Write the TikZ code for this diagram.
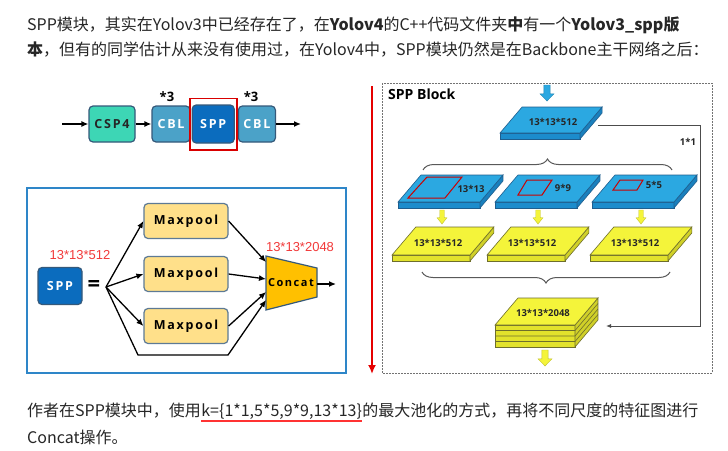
\documentclass[tikz,border=0pt]{standalone}
\usepackage{fontspec}
\setmainfont{Noto Sans CJK SC}
\newfontfamily\diag{Open Sans}
\newfontfamily\diagsp[LetterSpace=14]{Open Sans}
\newfontfamily\arial{Liberation Sans}
\usetikzlibrary{positioning,arrows.meta,fit,decorations.pathreplacing}
\definecolor{blkline}{HTML}{35597A}
\definecolor{cspfill}{HTML}{3DD6B5}
\definecolor{cblfill}{HTML}{4BA2C8}
\definecolor{sppfill}{HTML}{0B6CBE}
\definecolor{poolfill}{HTML}{FFE08A}
\definecolor{catfill}{HTML}{FFC000}
\definecolor{framebl}{HTML}{2E86C8}
\definecolor{dimred}{HTML}{F23A3A}
\definecolor{bluetop}{HTML}{2BA8E1}
\definecolor{bluefront}{HTML}{1C8CCC}
\definecolor{blueside}{HTML}{1A80BD}
\definecolor{blueline}{HTML}{1F5E8E}
\definecolor{yeltop}{HTML}{F4F43A}
\definecolor{yelfront}{HTML}{E2E22C}
\definecolor{yelside}{HTML}{D0D028}
\definecolor{yelline}{HTML}{6E6E2C}
% slab: x, y (front top left), width, depth, thickness, colour set
\newcommand{\slabblk}[6]{%
\filldraw[fill=#6front, draw=#6line, line width=0.6pt] (#1,#2) rectangle ({#1+#3},{#2+#5});
\filldraw[fill=#6side, draw=#6line, line width=0.6pt] ({#1+#3},#2) -- ++({0.85*#4},-#4) -- ++(0,#5) -- ({#1+#3},{#2+#5}) -- cycle;
\filldraw[fill=#6top, draw=#6line, line width=0.6pt] (#1,#2) -- ++(#3,0) -- ++({0.85*#4},-#4) -- ++(-#3,0) -- cycle;}
% fat arrow pointing down: x, y top, length, half width, colour
\newcommand{\fatarrow}[5]{%
\filldraw[fill=#5, draw=#5!80!black, line width=0.4pt] ({#1-0.45*#4},#2) -- ({#1+0.45*#4},#2) -- ({#1+0.45*#4},{#2+0.55*#3}) -- ({#1+#4},{#2+0.55*#3}) -- (#1,{#2+#3}) -- ({#1-#4},{#2+0.55*#3}) -- ({#1-0.45*#4},{#2+0.55*#3}) -- cycle;}
\begin{document}
\begin{tikzpicture}[x=1pt,y=-1pt,
  txt/.style={anchor=base west, inner sep=0pt, text=black!85, font=\fontsize{16}{16}\selectfont},
  blk/.style={draw=blkline, line width=1.2pt, rounded corners=4pt, minimum height=36pt, inner sep=0pt, font=\diagsp\bfseries\fontsize{12.5}{12.5}\selectfont},
  pool/.style={draw=blkline!80, fill=poolfill, line width=1.2pt, rounded corners=4pt, minimum width=84pt, minimum height=35pt, font=\diagsp\bfseries\fontsize{12.5}{12.5}\selectfont},
  arr/.style={-{Latex[length=7pt,width=6pt]}, line width=1.3pt},
  dims/.style={text=dimred, font=\arial\fontsize{13}{13}\selectfont},
  slabtxt/.style={font=\diag\bfseries\fontsize{9.5}{9.5}\selectfont, inner sep=0pt, text=black!85},
  brc/.style={decorate, draw=black!65, line width=1pt}]
\useasboundingbox[fill=white] (0,0) rectangle (728,450);
% text above
\node[txt] (l1) at (27,30) {SPP模块，其实在Yolov3中已经存在了，在\textbf{Yolov4}的C++代码文件夹\textbf{中}有一个\textbf{Yolov3\_spp版}};
\node[txt] (l2) at (27,55) {\textbf{本}，但有的同学估计从来没有使用过，在Yolov4中，SPP模块仍然是在Backbone主干网络之后：};
% backbone row
\node[blk, fill=cspfill, minimum width=46pt, text=black!85] (csp) at (112,124) {CSP4};
\node[blk, fill=cblfill, minimum width=38pt, text=white] (cbla) at (171,124) {CBL};
\node[blk, fill=sppfill, minimum width=42pt, minimum height=38pt, text=white, right=1pt of cbla] (sppa) {SPP};
\node[blk, fill=cblfill, minimum width=37pt, text=white, right=3pt of sppa] (cblb) {CBL};
\node[draw=red!85!black, line width=1.8pt, fit=(sppa), inner xsep=2pt, inner ysep=6pt] (hl) {};
\node[font=\diag\bfseries\fontsize{13}{13}\selectfont] (ta) at (167,97) {*3};
\node[font=\diag\bfseries\fontsize{13}{13}\selectfont] (tb) at (251,97) {*3};
\coordinate (in) at (62,124);
\coordinate (out) at (301,124);
\draw[arr] (in) -- (csp);
\draw[arr] (csp) -- (cbla);
\draw[arr] (cblb) -- (out);
% SPP detail
\draw[framebl, line width=2pt] (27,188) rectangle (346,373);
\node[blk, fill=sppfill, minimum width=44pt, minimum height=37pt, text=white] (sppb) at (60,286) {SPP};
\node[dims] (dima) at (80,255) {13*13*512};
\node[font=\diag\bfseries\fontsize{22}{22}\selectfont] (eq) at (94,286) {=};
\coordinate (br) at (106,287);
\node[pool] (mpa) at (186,221) {Maxpool};
\node[pool] (mpb) at (186,274) {Maxpool};
\node[pool] (mpc) at (186,326) {Maxpool};
\filldraw[fill=catfill, draw=blkline, line width=1.2pt] (266,256) -- (317,268) -- (317,297) -- (266,310) -- cycle;
\node[font=\diagsp\bfseries\fontsize{11}{11}\selectfont] (cat) at (291,283) {Concat};
\node[dims] (dimb) at (300,247) {13*13*2048};
\coordinate (cata) at (266,262);
\coordinate (catb) at (266,279);
\coordinate (catc) at (266,292);
\coordinate (catd) at (266,300);
\coordinate (catout) at (317,284);
\coordinate (catend) at (336,284);
\draw[arr] (br) -- (mpa.west);
\draw[arr] (br) -- (mpb.west);
\draw[arr] (br) -- (mpc.west);
\draw[arr] (br) -- ++(32,68) -- ++(90,0) -- (catd);
\draw[arr] (mpa.east) -- (cata);
\draw[arr] (mpb.east) -- (catb);
\draw[arr] (mpc.east) -- (catc);
\draw[arr] (catout) -- (catend);
% red arrow
\coordinate (rtop) at (372,86);
\coordinate (rbot) at (372,374);
\draw[red!90!black, line width=2pt, -{Latex[length=9pt,width=8pt]}] (rtop) -- (rbot);
% SPP block
\draw[black!55, line width=0.8pt, dash pattern=on 2pt off 1pt] (382,83) rectangle (712,373);
\node[anchor=west, inner sep=0pt, font=\diag\bfseries\fontsize{14}{14}\selectfont] (title) at (388,94) {SPP Block};
\fatarrow{547}{85}{16}{7}{bluetop}
\slabblk{500}{133}{80}{26}{6}{blue}
\node[slabtxt] (s0) at (553,122) {13*13*512};
\coordinate (topr) at (598,125);
\coordinate (stackr) at (606,326);
\draw[black!70, line width=0.9pt, -{Latex[length=5pt,width=4pt]}] (topr) -- ++(102,0) |- (stackr);
\node[slabtxt] (one) at (688,142) {1*1};
\draw[brc, decoration={brace, amplitude=11pt}] (423,170) -- (672,170);
% pooled maps
\slabblk{398}{202}{82}{27}{6}{blue}
\slabblk{495}{202}{82}{27}{6}{blue}
\slabblk{592}{202}{82}{27}{6}{blue}
\draw[red!80!black, line width=1pt] (408,198) -- (427,177) -- (462,177) -- (445,198) -- cycle;
\draw[red!80!black, line width=1pt] (518,195) -- (527,180) -- (552,180) -- (542,195) -- cycle;
\draw[red!80!black, line width=1pt] (613,190) -- (620,180) -- (643,180) -- (637,190) -- cycle;
\node[slabtxt] (k1) at (471,189) {13*13};
\node[slabtxt] (k2) at (563,188) {9*9};
\node[slabtxt] (k3) at (654,185) {5*5};
\fatarrow{442}{210}{14}{5}{yeltop}
\fatarrow{538}{210}{14}{5}{yeltop}
\fatarrow{641}{210}{14}{5}{yeltop}
\slabblk{392}{255}{78}{28}{6}{yel}
\slabblk{487}{255}{78}{28}{6}{yel}
\slabblk{590}{255}{78}{28}{6}{yel}
\node[slabtxt] (y1) at (438,243) {13*13*512};
\node[slabtxt] (y2) at (532,243) {13*13*512};
\node[slabtxt] (y3) at (635,243) {13*13*512};
\draw[brc, decoration={brace, amplitude=11pt}] (670,272) -- (422,272);
% stacked output
\slabblk{495}{325}{80}{27}{22}{yel}
\foreach \k in {5.5,11,16.5}
  \draw[yelline, line width=0.6pt] (495,{325+\k}) -- (575,{325+\k}) -- ++(23,-27);
\node[slabtxt] (s1) at (543,313) {13*13*2048};
\fatarrow{545}{350}{16}{7}{yeltop}
% text below
\node[txt] (b1) at (27,416) {作者在SPP模块中，使用};
\node[txt] (b2) at (b1.base east) {k=\{1*1,5*5,9*9,13*13\}};
\node[txt] (b3) at (b2.base east) {的最大池化的方式，再将不同尺度的特征图进行};
\node[txt] (b4) at (27,443) {Concat操作。};
\draw[red!80, line width=2.5pt] ([yshift=-2pt]b2.south west) -- ([yshift=-2pt]b2.south east);
\end{tikzpicture}
\end{document}
